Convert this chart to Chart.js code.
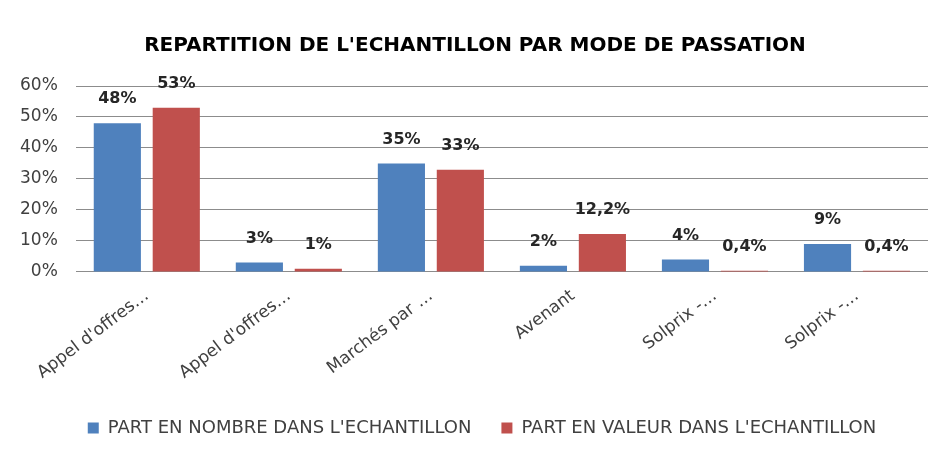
<!DOCTYPE html>
<html>
<head>
<meta charset="utf-8">
<script src="https://cdn.jsdelivr.net/npm/chart.js@4"></script>
<style>
  html, body { margin: 0; padding: 0; background: #fff; }
  #wrap { width: 938px; height: 451px; }
</style>
</head>
<body>
<div id="wrap"><canvas id="chart"></canvas></div>
<script>
"use strict";

const categories = ["Appel d'offres…", "Appel d'offres…", "Marchés par …", "Avenant", "Solprix -…", "Solprix -…"];
const partNombre = [48, 3, 35, 2, 4, 9];
const partValeur = [53, 1, 33, 12.2, 0.4, 0.4];
const yTicks = [0, 10, 20, 30, 40, 50, 60];

const FONT = "'DejaVu Sans', 'Liberation Sans', sans-serif";

const fmt = v => String(v).replace('.', ',') + '%';

// draws the value above each bar
const valueLabels = {
  id: 'valueLabels',
  afterDatasetsDraw(chart) {
    const ctx = chart.ctx;
    ctx.save();
    ctx.font = 'bold 16px ' + FONT;
    ctx.fillStyle = '#262626';
    ctx.textAlign = 'center';
    ctx.textBaseline = 'middle';
    chart.data.datasets.forEach((ds, i) => {
      chart.getDatasetMeta(i).data.forEach((bar, j) => {
        ctx.fillText(fmt(ds.data[j]), bar.x, bar.y - 24);
      });
    });
    ctx.restore();
  },
};

// title and legend sit a bit right of centre in the original
const blockShift = {
  id: 'blockShift',
  afterLayout(chart) {
    chart.legend.left += 17;
    chart.legend.right += 17;
    chart.titleBlock.left += 10;
    chart.titleBlock.right += 10;
  },
};

new Chart(document.getElementById('chart'), {
  type: 'bar',
  data: {
    labels: categories,
    datasets: [
      {
        label: "PART EN NOMBRE DANS L'ECHANTILLON",
        data: partNombre,
        backgroundColor: '#4f81bd',
        barPercentage: 0.8,
        categoryPercentage: 0.83,
      },
      {
        label: "PART EN VALEUR DANS L'ECHANTILLON",
        data: partValeur,
        backgroundColor: '#c0504d',
        barPercentage: 0.8,
        categoryPercentage: 0.83,
      },
    ],
  },
  options: {
    responsive: true,
    maintainAspectRatio: false,
    animation: false,
    layout: { padding: { left: 2, right: 10, top: 4, bottom: 4 } },
    plugins: {
      title: {
        display: true,
        text: "REPARTITION DE L'ECHANTILLON PAR MODE DE PASSATION",
        color: '#000',
        font: { family: FONT, size: 20, weight: 'bold' },
        padding: { top: 30, bottom: 28 },
      },
      legend: {
        position: 'bottom',
        labels: {
          color: '#404040',
          font: { family: FONT, size: 18 },
          boxWidth: 11,
          boxHeight: 11,
          padding: 30,
        },
      },
      tooltip: { enabled: false },
    },
    scales: {
      x: {
        grid: { display: false },
        border: { display: false },
        ticks: {
          color: '#404040',
          font: { family: FONT, size: 17 },
          minRotation: 37,
          maxRotation: 37,
          padding: 6,
        },
      },
      y: {
        min: 0,
        max: 60,
        afterBuildTicks: axis => { axis.ticks = yTicks.map(v => ({ value: v })); },
        grid: { color: '#8c8c8c', drawTicks: false },
        border: { display: false },
        ticks: {
          color: '#404040',
          font: { family: FONT, size: 17 },
          padding: 18,
          callback: v => v + '%',
        },
      },
    },
  },
  plugins: [valueLabels, blockShift],
});
</script>
</body>
</html>
